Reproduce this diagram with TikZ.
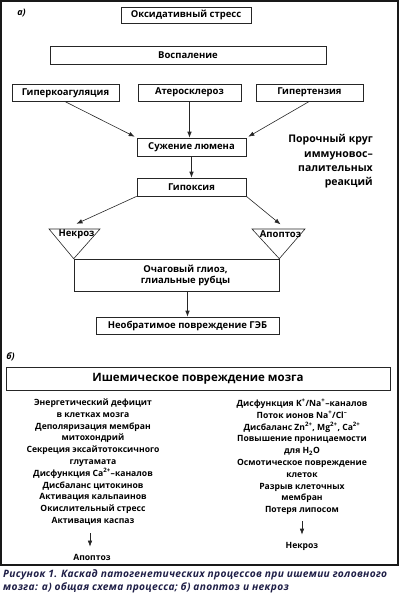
\documentclass[tikz,border=0pt]{standalone}
\usepackage{fontspec}
\setmainfont{Open Sans}
\usetikzlibrary{arrows.meta,positioning}
\definecolor{capblue}{rgb}{0.12,0.12,0.28}
\tikzset{>={Latex[length=6pt,width=4.5pt]}}
\tikzset{font=\bfseries\fontsize{9.5}{11}\selectfont}
\tikzset{
  box/.style={draw=black!85, line width=0.6pt, fill=white, inner sep=0pt, align=center},
  flow/.style={->, draw=black!85, line width=0.6pt},
  col/.style={align=center, inner sep=0pt, font=\bfseries\fontsize{8.6}{11.8}\selectfont},
  tri/.style={draw=black!85, line width=0.6pt}
}

\begin{document}
\begin{tikzpicture}[x=1pt, y=-1pt]
  \useasboundingbox (0,0) rectangle (400,594);
  \draw[line width=1.2pt, black!90] (1,1) rectangle (398,565);

  % panel a
  \node[font=\bfseries\itshape\fontsize{9}{11}\selectfont] (laba) at (21.5,13.5) {а)};
  \node[box, minimum width=130pt, minimum height=16pt] (oxi) at (186,15) {Оксидативный стресс};
  \node[box, minimum width=276pt, minimum height=18pt] (vosp) at (188,55) {Воспаление};
  \node[box, minimum width=107pt, minimum height=17pt] (hcoag) at (65.5,93) {Гиперкоагуляция};
  \node[box, minimum width=103pt, minimum height=17pt] (ather) at (189.5,92.5) {Атеросклероз};
  \node[box, minimum width=107pt, minimum height=17pt] (htens) at (309.5,92.5) {Гипертензия};
  \node[box, minimum width=109pt, minimum height=18pt] (suzh) at (191.5,147) {Сужение люмена};
  \node[box, minimum width=109pt, minimum height=18pt] (hypox) at (191.5,187) {Гипоксия};
  \node[align=right, anchor=east, inner sep=0pt,
        font=\bfseries\fontsize{10.5}{14.4}\selectfont] (circ) at (373,161.5)
        {Порочный круг\\иммуновос–\\палительных\\реакций};

  \draw[flow] (hcoag.south) -- ([shift={(-2pt,1pt)}]suzh.north west);
  \draw[flow] (ather.south) -- (ather.south |- suzh.north);
  \draw[flow] (htens.south) -- ([shift={(2pt,1pt)}]suzh.north east);
  \draw[flow] (suzh.south) -- (hypox.north);

  % triangles over the glial box
  \node[box, minimum width=205pt, minimum height=32pt,
        label={[xshift=9pt, align=center, inner sep=0pt]center:Очаговый глиоз,\\глиальные рубцы}] (glioz) at (176.5,275) {};
  \draw[tri] (49,229) -- (100,229) -- (glioz.north west) -- cycle;
  \draw[tri] (252,229) -- (305,229) -- (glioz.north east) -- cycle;
  \node[inner sep=0pt] (necr) at (76.5,234.5) {Некроз};
  \node[inner sep=0pt] (apop) at (280.5,234) {Апоптоз};
  \draw[flow] (hypox.south west) -- ([yshift=6pt]necr.north);
  \draw[flow] (hypox.south east) -- ([yshift=6pt]apop.north);

  \node[box, minimum width=183pt, minimum height=17pt] (geb) at (187.5,325.5) {Необратимое повреждение ГЭБ};
  \draw[flow] (geb.north |- glioz.south) -- (geb.north);

  % panel b
  \node[font=\bfseries\itshape\fontsize{9}{11}\selectfont] (labb) at (10.5,356.5) {б)};
  \node[box, minimum width=384pt, minimum height=23pt,
        font=\bfseries\fontsize{11.5}{13}\selectfont] (isch) at (198,378.5) {Ишемическое повреждение мозга};

  \node[col] (left) at (93,462) {Энергетический дефицит\\в клетках мозга\\Деполяризация мембран\\митохондрий\\Секреция эксайтотоксичного\\глутамата\\Дисфункция Ca\textsuperscript{2+}–каналов\\Дисбаланс цитокинов\\Активация кальпаинов\\Окислительный стресс\\Активация каспаз};
  \node[col] (apopb) at (92,557) {Апоптоз};
  \draw[flow] ([yshift=-8pt]left.south -| 90,0) -- ([yshift=7pt]apopb.north -| 90,0);

  \node[col] (right) at (302,457) {Дисфункция K\textsuperscript{+}/Na\textsuperscript{+}–каналов\\Поток ионов Na\textsuperscript{+}/Cl\textsuperscript{–}\\Дисбаланс Zn\textsuperscript{2+}, Mg\textsuperscript{2+}, Ca\textsuperscript{2+}\\Повышение проницаемости\\для H\textsubscript{2}O\\Осмотическое повреждение\\клеток\\Разрыв клеточных\\мембран\\Потеря липосом};
  \node[col] (necrb) at (302,546) {Некроз};
  \draw[flow] ([yshift=-6pt]right.south) -- ([yshift=7pt]necrb.north);

  % caption
  \node[anchor=north west, align=left, inner sep=0pt, text=capblue,
        font=\bfseries\itshape\fontsize{10.2}{13}\selectfont\addfontfeature{LetterSpace=3}] (capt) at (3,569)
        {Рисунок 1. Каскад патогенетических процессов при ишемии головного\\мозга: а) общая схема процесса; б) апоптоз и некроз};
\end{tikzpicture}
\end{document}
